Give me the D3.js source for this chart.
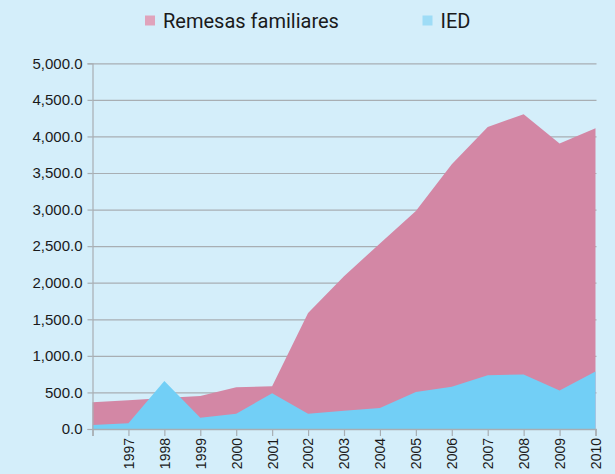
<!DOCTYPE html>
<html>
<head>
<meta charset="utf-8">
<script src="https://cdn.jsdelivr.net/npm/d3@7"></script>
<style>
  body { margin: 0; background: #d4eefa; }
  svg { display: block; }
</style>
</head>
<body>
<svg id="chart" width="615" height="474"></svg>
<script>
const years = [1996, 1997, 1998, 1999, 2000, 2001, 2002, 2003, 2004, 2005, 2006, 2007, 2008, 2009, 2010];
const remesas = [365, 392, 423, 451, 570, 583, 1585, 2090, 2537, 2982, 3620, 4130, 4303, 3903, 4112];
const ied = [55, 78, 656, 154, 209, 490, 209, 250, 287, 505, 578, 735, 745, 525, 785];
const yTicks = [0, 500, 1000, 1500, 2000, 2500, 3000, 3500, 4000, 4500, 5000];
const seriesNames = ["Remesas familiares", "IED"];

const svg = d3.select("#chart"),
  margin = { top: 63.3, right: 19.5, bottom: 45, left: 92.5 },
  width = +svg.attr("width") - margin.left - margin.right,
  height = +svg.attr("height") - margin.top - margin.bottom;

svg.append("rect").attr("width", 615).attr("height", 474).attr("fill", "#d4eefa");

const x = d3.scaleLinear().domain([1996, 2010]).range([0, width]);
const y = d3.scaleLinear().domain([0, 5000]).range([height, 0]);

const g = svg.append("g")
  .attr("transform", "translate(" + margin.left + "," + margin.top + ")");

// grid lines
g.append("g")
  .attr("class", "grid")
  .call(d3.axisLeft(y).tickValues(yTicks).tickSize(-width - 1).tickFormat(""))
  .call(s => s.select(".domain").remove())
  .call(s => s.selectAll("line").attr("stroke", "#a8aeb3").attr("stroke-width", 1.2));

const area = (vals) => d3.area()
  .x((d, i) => x(years[i]))
  .y0(y(0))
  .y1(d => y(d))(vals);

g.append("path").attr("d", area(remesas)).attr("fill", "#d387a5");
g.append("path").attr("d", area(ied)).attr("fill", "#72cff6");

// y axis
g.append("g")
  .call(d3.axisLeft(y).tickValues(yTicks).tickSize(5).tickPadding(5)
    .tickFormat(d3.format(",.1f")))
  .call(s => s.select(".domain").attr("stroke", "#a8aeb3").attr("stroke-width", 1.2))
  .call(s => s.selectAll("line").attr("stroke", "#a8aeb3").attr("stroke-width", 1.2))
  .call(s => s.selectAll("text")
    .attr("fill", "#1a1a1a")
    .style("font-family", "'Liberation Sans', Arial, sans-serif")
    .style("font-size", "15px"));

// x axis
g.append("g")
  .attr("transform", "translate(0," + height + ")")
  .call(d3.axisBottom(x).tickValues(years).tickSize(7).tickPadding(4)
    .tickFormat(d => d === 1996 ? "" : d))
  .call(s => s.select(".domain").attr("stroke", "#a8aeb3").attr("stroke-width", 1.5))
  .call(s => s.selectAll("line").attr("stroke", "#a8aeb3").attr("stroke-width", 1.2))
  .call(s => s.selectAll("text")
    .attr("fill", "#1a1a1a")
    .attr("transform", "rotate(-90)")
    .attr("text-anchor", "end")
    .attr("x", -9)
    .attr("y", 0)
    .attr("dy", "0.35em")
    .style("font-family", "'Liberation Sans', Arial, sans-serif")
    .style("font-size", "14px"));

// legend
const legend = svg.append("g");
const legendX = [145, 422.5];
const legendColors = ["#e0a3bb", "#9edcf6"];
seriesNames.forEach((name, i) => {
  legend.append("rect")
    .attr("x", legendX[i]).attr("y", 15.5)
    .attr("width", 10).attr("height", 10)
    .attr("fill", legendColors[i]);
  legend.append("text")
    .attr("x", legendX[i] + 18).attr("y", 28)
    .attr("fill", "#1a1a1a")
    .style("font-family", "Roboto, sans-serif")
    .style("font-size", "20px")
    .text(name);
});
</script>
</body>
</html>
